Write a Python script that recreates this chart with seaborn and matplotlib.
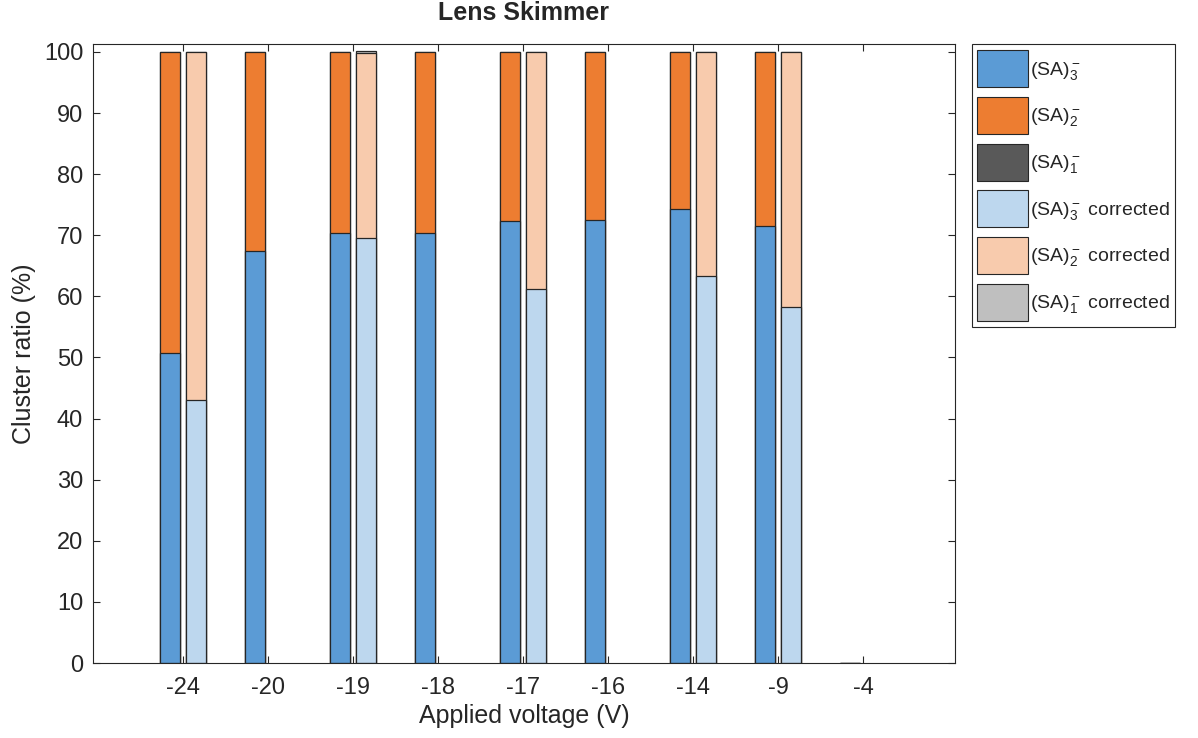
import pandas as pd
import numpy as np
import matplotlib
matplotlib.use('Agg')
import matplotlib.pyplot as plt
import seaborn as sns
from matplotlib.patches import Patch

# Datos
voltajes = ['-24', '-20', '-19', '-18', '-17', '-16', '-14', '-9', '-4']
sa3 = [50.8, 67.5, 70.3, 70.3, 72.3, 72.5, 74.3, 71.5, 0.0]
sa2 = [49.2, 32.5, 29.7, 29.7, 27.7, 27.5, 25.7, 28.5, 0.0]
sa1 = [0.0, 0.0, 0.0, 0.0, 0.0, 0.0, 0.0, 0.0, 0.0]
sa3_corr = [43.0, np.nan, 69.5, np.nan, 61.2, np.nan, 63.4, 58.2, np.nan]
sa2_corr = [57.0, np.nan, 30.3, np.nan, 38.8, np.nan, 36.6, 41.8, np.nan]
sa1_corr = [0.0, np.nan, 0.4, np.nan, 0.0, np.nan, 0.0, 0.0, np.nan]

etiquetas = [r'(SA)$_3^-$', r'(SA)$_2^-$', r'(SA)$_1^-$',
             r'(SA)$_3^-$ corrected', r'(SA)$_2^-$ corrected', r'(SA)$_1^-$ corrected']
colores = ['#5B9BD5', '#ED7D31', '#595959', '#BDD7EE', '#F8CBAD', '#BFBFBF']

sns.set_style('white')
plt.rcParams['font.family'] = ['Liberation Sans', 'DejaVu Sans']
plt.rcParams['mathtext.fontset'] = 'custom'
plt.rcParams['mathtext.rm'] = 'Liberation Sans'
plt.rcParams['mathtext.it'] = 'Liberation Sans'

df = pd.DataFrame({
    'voltaje': voltajes * 2,
    'tipo': ['normal'] * 9 + ['corregido'] * 9,
    'sa3': sa3 + sa3_corr,
    'sa2': sa2 + sa2_corr,
    'sa1': sa1 + sa1_corr,
})
df['c3'] = df['sa3']
df['c2'] = df['sa3'] + df['sa2']
df['c1'] = df['sa3'] + df['sa2'] + df['sa1']

fig = plt.figure(figsize=(11.98, 7.38), dpi=100)
ax = fig.add_axes([0.0776, 0.1016, 0.7195, 0.8388])

# Barras apiladas: dibujar de la mas alta a la mas baja
capas = [('c1', colores[2], colores[5]), ('c2', colores[1], colores[4]), ('c3', colores[0], colores[3])]
for col, c_norm, c_corr in capas:
    sns.barplot(ax=ax, data=df, x='voltaje', y=col, hue='tipo', order=voltajes,
                hue_order=['normal', 'corregido'],
                palette={'normal': c_norm, 'corregido': c_corr},
                width=0.62, gap=0.25, edgecolor='#262626', linewidth=0.9,
                legend=False, errorbar=None, saturation=1)

ax.set_xlim(-1.06, 9.08)
ax.set_ylim(0, 101.3)
ax.set_yticks(range(0, 101, 10))
ax.set_title('Lens Skimmer', fontsize=18, fontweight='bold', pad=17)
ax.set_xlabel('Applied voltage (V)', fontsize=18, color='#262626', labelpad=4)
ax.set_ylabel('Cluster ratio (%)', fontsize=18, color='#262626', labelpad=6)
ax.tick_params(axis='both', direction='in', length=5, width=0.8, labelsize=17,
               colors='#262626', top=True, right=True, bottom=True, left=True)
ax.tick_params(axis='x', pad=10)
ax.tick_params(axis='y', pad=7)
for s in ax.spines.values():
    s.set_visible(True)
    s.set_color('#262626')
    s.set_linewidth(0.8)

handles = [Patch(facecolor=c, edgecolor='#262626', linewidth=0.8) for c in colores]
leg = fig.legend(handles, etiquetas, loc='upper left', bbox_to_anchor=(0.811, 0.94),
                 fontsize=14, handlelength=2.6, handleheight=2.55, labelspacing=0.5,
                 handletextpad=0.1, borderpad=0.3, borderaxespad=0, fancybox=False,
                 edgecolor='#262626', framealpha=1)
leg.get_frame().set_linewidth(0.8)

plt.savefig('out.png', dpi=100)
